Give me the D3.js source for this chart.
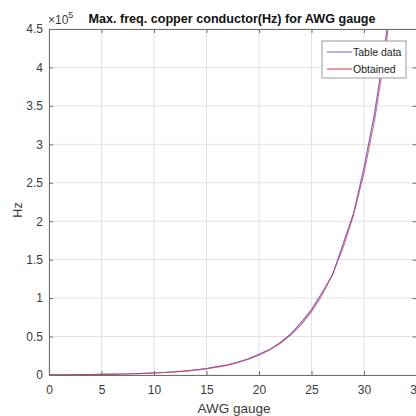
<!DOCTYPE html>
<html>
<head>
<meta charset="utf-8">
<script src="https://cdn.jsdelivr.net/npm/d3@7"></script>
<style>
  body { margin: 0; background: #fff; }
  text { font-family: "Liberation Sans", Arial, sans-serif; }
</style>
</head>
<body>
<script>
// AWG gauges
var gauges = d3.range(0, 36);
// max frequency (Hz) from the table
var tableData = [250, 325, 410, 500, 650, 810, 1100, 1300, 1650, 2050,
  2600, 3200, 4150, 5300, 6700, 8250, 11000, 13000, 17000, 21000,
  27000, 33000, 42000, 53000, 68000, 85000, 107000, 130000, 170000, 210000,
  270000, 340000, 430000, 540000, 690000, 870000];
// max frequency (Hz) obtained
var obtained = [250, 315, 397, 500, 631, 796, 1004, 1266, 1596, 2013,
  2538, 3201, 4036, 5090, 6418, 8094, 10207, 12871, 16231, 20468,
  25810, 32550, 41040, 51760, 65270, 82310, 103800, 130900, 165000, 208100,
  262400, 330900, 417300, 526200, 663600, 836800];
var xTicks = [0, 5, 10, 15, 20, 25, 30, 35];
var yTicks = [0, 0.5, 1, 1.5, 2, 2.5, 3, 3.5, 4, 4.5];
var seriesNames = ["Table data", "Obtained"];
var seriesColors = ["#6a6ad0", "#d8354a"];

var margin = {left: 49, right: 0, top: 29, bottom: 41},
    width = 416 - margin.left - margin.right + 0.5,
    height = 416 - margin.top - margin.bottom;

var svg = d3.select("body").append("svg")
    .attr("width", 416).attr("height", 416);
var g = svg.append("g")
    .attr("transform", "translate(" + margin.left + "," + margin.top + ")");

var xScale = d3.scaleLinear().domain([0, 35]).range([0, width]);
var yScale = d3.scaleLinear().domain([0, 4.5e5]).range([height, 0]);

// grid
g.selectAll(".gx").data(xTicks).enter().append("line")
    .attr("x1", function(d) { return xScale(d); }).attr("x2", function(d) { return xScale(d); })
    .attr("y1", 0).attr("y2", height)
    .attr("stroke", "#e3e3e3").attr("stroke-width", 1);
g.selectAll(".gy").data(yTicks).enter().append("line")
    .attr("y1", function(d) { return yScale(d * 1e5); }).attr("y2", function(d) { return yScale(d * 1e5); })
    .attr("x1", 0).attr("x2", width)
    .attr("stroke", "#e3e3e3").attr("stroke-width", 1);

// clip
svg.append("defs").append("clipPath").attr("id", "clip")
    .append("rect").attr("width", width).attr("height", height);

var line = function(vals) {
  return d3.line()
    .x(function(d, i) { return xScale(gauges[i]); })
    .y(function(d) { return yScale(d); })(vals);
};
var plot = g.append("g").attr("clip-path", "url(#clip)");
[tableData, obtained].forEach(function(vals, i) {
  plot.append("path").attr("d", line(vals))
    .attr("fill", "none").attr("stroke", seriesColors[i])
    .attr("stroke-width", 1.1).attr("opacity", i == 0 ? 1 : 0.75);
});

// axes (ticks inward, box)
var axisColor = "#6e6e6e";
var xAxis = d3.axisBottom(xScale).tickValues(xTicks).tickSize(-4).tickPadding(10)
    .tickFormat(d3.format("d"));
var yAxis = d3.axisLeft(yScale).tickValues(yTicks.map(function(d) { return d * 1e5; }))
    .tickSize(-4).tickPadding(6).tickFormat(function(d) { return d / 1e5; });
var gx = g.append("g").attr("transform", "translate(0," + height + ")").call(xAxis);
var gy = g.append("g").call(yAxis);
g.append("g").call(d3.axisTop(xScale).tickValues(xTicks).tickSize(-4).tickFormat(""));
g.append("g").attr("transform", "translate(" + width + ",0)")
    .call(d3.axisRight(yScale).tickValues(yTicks.map(function(d) { return d * 1e5; })).tickSize(-4).tickFormat(""));
g.selectAll(".domain, .tick line").attr("stroke", axisColor);
g.selectAll(".tick text").attr("fill", "#3a3a3a")
    .attr("font-size", 12).attr("font-family", "'Liberation Sans', Arial, sans-serif");

// exponent
var ex = svg.append("text").attr("x", 48).attr("y", 24).attr("fill", "#3a3a3a")
    .attr("font-size", 12);
ex.append("tspan").text("\u00d710");
ex.append("tspan").attr("dy", -6).attr("font-size", 9).text("5");

// title
svg.append("text").attr("x", 232).attr("y", 23).attr("text-anchor", "middle")
    .attr("font-size", 12.6).attr("font-weight", "bold").attr("fill", "#111")
    .text("Max. freq. copper conductor(Hz) for AWG gauge");

// axis labels
svg.append("text").attr("x", 234).attr("y", 413).attr("text-anchor", "middle")
    .attr("font-size", 13.5).attr("fill", "#3a3a3a").text("AWG gauge");
svg.append("text").attr("transform", "translate(22,210) rotate(-90)")
    .attr("text-anchor", "middle").attr("font-size", 12.5).attr("fill", "#3a3a3a").text("Hz");

// legend
var lg = svg.append("g").attr("transform", "translate(322,41)");
lg.append("rect").attr("width", 84).attr("height", 37)
    .attr("fill", "#fff").attr("stroke", "#9a9a9a").attr("stroke-width", 1);
seriesNames.forEach(function(name, i) {
  lg.append("line").attr("x1", 5).attr("x2", 30).attr("y1", 11 + i * 17).attr("y2", 11 + i * 17)
    .attr("stroke", seriesColors[i]).attr("stroke-width", 1);
  lg.append("text").attr("x", 31).attr("y", 15 + i * 17)
    .attr("font-size", 10.5).attr("fill", "#222").text(name);
});
</script>
</body>
</html>
